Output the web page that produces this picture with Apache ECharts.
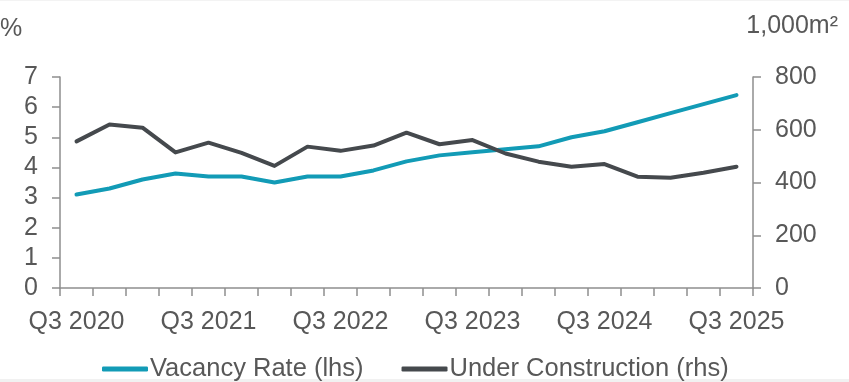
<!DOCTYPE html>
<html>
<head>
<meta charset="utf-8">
<script src="https://cdn.jsdelivr.net/npm/echarts@6/dist/echarts.min.js"></script>
<style>
html,body{margin:0;padding:0;background:#fff;}
#c{width:849px;height:382px;}
</style>
</head>
<body>
<div id="c"></div>
<script>
const categories = ["Q3 2020","Q4 2020","Q1 2021","Q2 2021","Q3 2021","Q4 2021","Q1 2022","Q2 2022","Q3 2022","Q4 2022","Q1 2023","Q2 2023","Q3 2023","Q4 2023","Q1 2024","Q2 2024","Q3 2024","Q4 2024","Q1 2025","Q2 2025","Q3 2025"];
const vacancyRate = [3.1,3.3,3.6,3.8,3.7,3.7,3.5,3.7,3.7,3.9,4.2,4.4,4.5,4.6,4.7,5.0,5.2,5.5,5.8,6.1,6.4];
const underConstruction = [556,620,608,514,551,512,463,536,520,540,589,545,561,510,479,460,470,422,418,437,460];
const leftTicks = [0,1,2,3,4,5,6,7];
const rightTicks = [0,200,400,600,800];

const FONT = "Liberation Sans, Arial, sans-serif";
const TXT = "#585858";
const AX = "#8e8e8e";

const chart = echarts.init(document.getElementById('c'), null, {renderer:'canvas'});
chart.setOption({
  backgroundColor:'#ffffff',
  animation:false,
  textStyle:{fontFamily:FONT},
  grid:{left:60,right:96,top:77,bottom:94,containLabel:false},
  legend:{
    left:97, top:351,
    itemWidth:46, itemHeight:5, itemGap:38,
    icon:'roundRect',
    textStyle:{fontFamily:FONT,fontSize:25.5,color:TXT,padding:[0,0,0,-3]},
    data:['Vacancy Rate (lhs)','Under Construction (rhs)']
  },
  graphic:[
    {type:'text',left:0,top:17,style:{text:'%',fontFamily:FONT,fontSize:25,fill:TXT}},
    {type:'text',right:11,top:14,style:{text:'1,000m²',fontFamily:FONT,fontSize:25,fill:TXT}},
    {type:'rect',shape:{x:0,y:379,width:849,height:3},style:{fill:'#f1f1f1'}},
    {type:'rect',shape:{x:0,y:0,width:849,height:1},style:{fill:'#f3f3f3'}}
  ],
  xAxis:{
    type:'category', data:categories, boundaryGap:true,
    axisLine:{lineStyle:{color:AX,width:1.5}},
    axisTick:{show:true,length:8,interval:0,lineStyle:{color:AX,width:1.5}},
    axisLabel:{interval:3,fontFamily:FONT,fontSize:25,color:TXT,margin:22},
    splitLine:{show:false}
  },
  yAxis:[
    {type:'value',min:leftTicks[0],max:leftTicks[leftTicks.length-1],interval:1,position:'left',
     axisLine:{show:true,lineStyle:{color:AX,width:1.5}},
     axisTick:{show:true,length:8,lineStyle:{color:AX,width:1.5}},
     axisLabel:{fontFamily:FONT,fontSize:25,color:TXT,margin:22},
     splitLine:{show:false}},
    {type:'value',min:rightTicks[0],max:rightTicks[rightTicks.length-1],interval:200,position:'right',
     axisLine:{show:true,lineStyle:{color:AX,width:1.5}},
     axisTick:{show:true,length:8,lineStyle:{color:AX,width:1.5}},
     axisLabel:{fontFamily:FONT,fontSize:25,color:TXT,margin:22},
     splitLine:{show:false}}
  ],
  series:[
    {name:'Vacancy Rate (lhs)',type:'line',yAxisIndex:0,data:vacancyRate,
     symbol:'none',color:'#129bb6',lineStyle:{width:4,color:'#129bb6',cap:'round',join:'round'}},
    {name:'Under Construction (rhs)',type:'line',yAxisIndex:1,data:underConstruction,
     symbol:'none',color:'#45494d',lineStyle:{width:4,color:'#45494d',cap:'round',join:'round'}}
  ]
});
</script>
</body>
</html>
